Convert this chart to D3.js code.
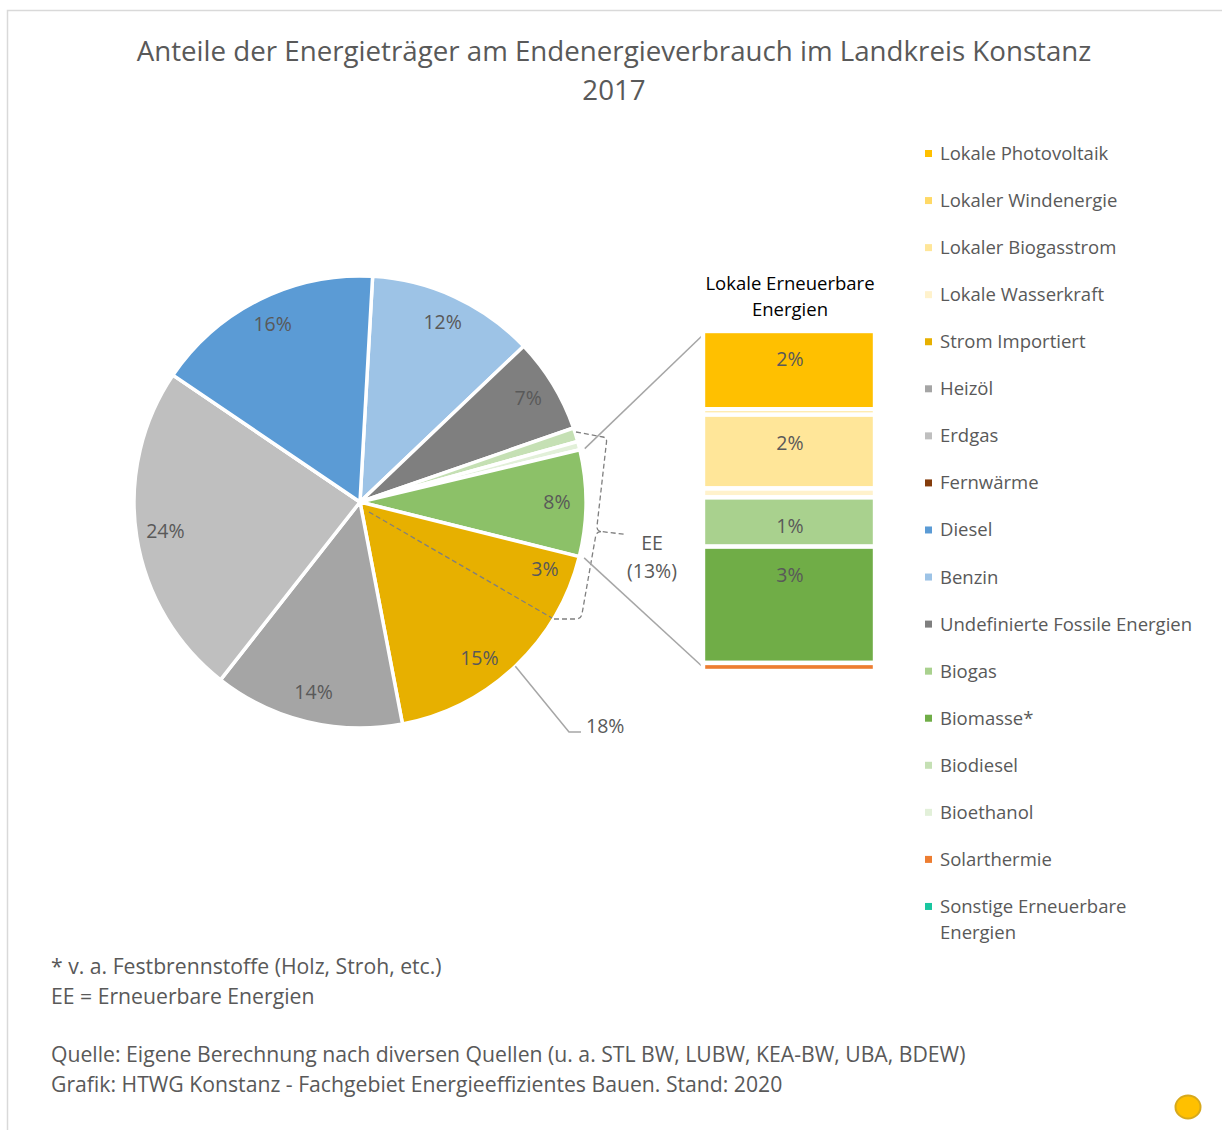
<!DOCTYPE html>
<html>
<head>
<meta charset="utf-8">
<script src="https://cdn.jsdelivr.net/npm/d3@7"></script>
<style>
  body { margin: 0; background: #fff; }
  text { font-family: "Open Sans", sans-serif; fill: #595959; }
</style>
</head>
<body>
<svg id="chart" width="1222" height="1130"></svg>
<script>
// ─── data (Anteile in %) ───
const pieNames  = ['Benzin', 'Undefinierte Fossile Energien', 'Biodiesel', 'Bioethanol',
                   'Lokale Erneuerbare Energien', 'Strom Importiert', 'Heizöl', 'Erdgas',
                   'Fernwärme', 'Diesel'];
const pieValues = [12.0, 6.8, 1.0, 0.6, 7.6, 18.1, 13.6, 23.9, 0, 16.4];
const stromEE   = 3.4;   // erneuerbarer Anteil im importierten Strom

const barNames  = ['Lokale Photovoltaik', 'Lokaler Windenergie', 'Lokaler Biogasstrom',
                   'Lokale Wasserkraft', 'Biogas', 'Biomasse*', 'Solarthermie',
                   'Sonstige Erneuerbare Energien'];
const barValues = [1.75, 0.12, 1.65, 0.2, 1.1, 2.6, 0.18, 0];

const legendNames = ['Lokale Photovoltaik', 'Lokaler Windenergie', 'Lokaler Biogasstrom',
  'Lokale Wasserkraft', 'Strom Importiert', 'Heizöl', 'Erdgas', 'Fernwärme', 'Diesel',
  'Benzin', 'Undefinierte Fossile Energien', 'Biogas', 'Biomasse*', 'Biodiesel',
  'Bioethanol', 'Solarthermie', 'Sonstige Erneuerbare Energien'];
const legendColors = ['#ffc000', '#ffd966', '#ffe699', '#fff2cc', '#e7b000', '#a5a5a5',
  '#bfbfbf', '#843c0c', '#5b9bd5', '#9dc3e6', '#7f7f7f', '#a9d18e', '#70ad47', '#c5e0b4',
  '#e2f0d9', '#ed7d31', '#19c6a0'];

const titleLines = ['Anteile der Energieträger am Endenergieverbrauch im Landkreis Konstanz', '2017'];
const notes = ['* v. a. Festbrennstoffe (Holz, Stroh, etc.)', 'EE = Erneuerbare Energien', '',
  'Quelle: Eigene Berechnung nach diversen Quellen (u. a. STL BW, LUBW, KEA-BW, UBA, BDEW)',
  'Grafik: HTWG Konstanz - Fachgebiet Energieeffizientes Bauen. Stand: 2020'];

const color = d3.scaleOrdinal()
  .domain(legendNames.concat(['Lokale Erneuerbare Energien']))
  .range(legendColors.concat(['#8cc168']));

const svg = d3.select('#chart');
const pct = v => Math.round(v) + '%';
const rad = deg => deg * Math.PI / 180;

// chart frame
svg.append('rect')
  .attr('x', 7.5).attr('y', 10.5).attr('width', 1240).attr('height', 1140)
  .attr('fill', '#fff').attr('stroke', '#d9d9d9').attr('stroke-width', 1.5);

// title
svg.append('g').selectAll('text')
  .data(titleLines)
  .join('text')
    .attr('x', 614).attr('y', (d, i) => 61 + i * 39)
    .attr('text-anchor', 'middle')
    .style('font-size', '27.7px')
    .text(d => d);

// ─── Pie ───
const cx = 360, cy = 502, R = 226;
const pieData = pieNames.map((n, i) => ({ name: n, value: pieValues[i] }));
const pie = d3.pie().sort(null).value(d => d.value)
  .startAngle(rad(3.2)).endAngle(rad(363.2));
const arcs = pie(pieData);
const arc = d3.arc().innerRadius(0).outerRadius(R);
const labelArc = d3.arc().innerRadius(197).outerRadius(197);
const edgeArc = d3.arc().innerRadius(R).outerRadius(R);

const pg = svg.append('g').attr('transform', `translate(${cx},${cy})`);
pg.selectAll('path')
  .data(arcs)
  .join('path')
    .attr('d', arc)
    .attr('fill', d => color(d.data.name))
    .attr('stroke', '#fff')
    .attr('stroke-width', 3.5)
    .attr('stroke-linejoin', 'round');

const strom = arcs.find(d => d.data.name === 'Strom Importiert');
const total = d3.sum(pieValues);
const split = strom.startAngle + stromEE / total * 2 * Math.PI;

// dashed line: EE share inside imported electricity
pg.append('line')
  .attr('x1', 9).attr('y1', 10).attr('x2', 192).attr('y2', 116)
  .attr('stroke', '#7f7f7f').attr('stroke-width', 1.3)
  .attr('stroke-dasharray', '5,3');

// slice labels
const labels = arcs
  .filter(d => d.data.value >= 5 && d.data.name !== 'Strom Importiert')
  .map(d => ({ pos: labelArc.centroid(d), text: pct(d.data.value) }));
labels.push({ pos: labelArc.centroid({ startAngle: strom.startAngle, endAngle: split }), text: pct(stromEE) });
labels.push({ pos: labelArc.centroid({ startAngle: split, endAngle: strom.endAngle }), text: pct(strom.data.value - stromEE) });

pg.selectAll('text.lbl')
  .data(labels)
  .join('text')
    .attr('class', 'lbl')
    .attr('x', d => d.pos[0]).attr('y', d => d.pos[1])
    .attr('dy', '0.3em')
    .attr('text-anchor', 'middle')
    .style('font-size', '19.5px')
    .text(d => d.text);

// leader for total Strom
const lp = edgeArc.centroid(strom);
pg.append('polyline')
  .attr('points', [lp, [209, 230], [221, 230]].map(p => p.join(',')).join(' '))
  .attr('fill', 'none').attr('stroke', '#a6a6a6').attr('stroke-width', 1.5);
pg.append('text')
  .attr('x', 226).attr('y', 224).attr('dy', '0.35em')
  .style('font-size', '19.5px')
  .text(pct(strom.data.value));

// EE bracket
svg.append('path')
  .attr('d', 'M576,432 L603,437 Q607,438 606.5,442 L597,526 Q596.5,531 601,531.5 L626,534.5 ' +
             'M601,531.5 Q596,532 595.5,537 L582,614 Q581,619 576,619 L551,619')
  .attr('fill', 'none').attr('stroke', '#7f7f7f').attr('stroke-width', 1.3)
  .attr('stroke-dasharray', '5,3');
const eeShare = d3.sum(arcs.filter(d => ['Biodiesel', 'Bioethanol', 'Lokale Erneuerbare Energien'].includes(d.data.name)), d => d.data.value) + stromEE;
svg.append('g').selectAll('text')
  .data(['EE', '(' + pct(eeShare) + ')'])
  .join('text')
    .attr('x', 652).attr('y', (d, i) => 543 + i * 28).attr('dy', '0.35em')
    .attr('text-anchor', 'middle')
    .style('font-size', '19.5px')
    .text(d => d);

// ─── Bar of pie ───
const other = arcs.find(d => d.data.name === 'Lokale Erneuerbare Energien');
const barX = 703, barW = 172;
const y = d3.scaleLinear().domain([0, d3.sum(barValues)]).range([331, 671]);
let acc = 0;
const stack = barNames.map((n, i) => {
  const s = { name: n, value: barValues[i], y0: acc, y1: acc + barValues[i] };
  acc += barValues[i];
  return s;
});

// connector lines
const c0 = d3.arc().innerRadius(R + 5).outerRadius(R + 5)
  .centroid({ startAngle: other.startAngle, endAngle: other.startAngle });
const c1 = d3.arc().innerRadius(R + 5).outerRadius(R + 5)
  .centroid({ startAngle: other.endAngle, endAngle: other.endAngle });
svg.append('g').selectAll('line')
  .data([[c0, y(0) + 2], [c1, y(acc) - 2]])
  .join('line')
    .attr('x1', d => cx + d[0][0]).attr('y1', d => cy + d[0][1])
    .attr('x2', barX + 2).attr('y2', d => d[1])
    .attr('stroke', '#a6a6a6').attr('stroke-width', 1.5);

const bg = svg.append('g');
bg.selectAll('rect')
  .data(stack.filter(d => d.value > 0))
  .join('rect')
    .attr('x', barX).attr('width', barW)
    .attr('y', d => y(d.y0))
    .attr('height', d => y(d.y1) - y(d.y0))
    .attr('fill', d => color(d.name))
    .attr('stroke', '#fff').attr('stroke-width', 4.4);

bg.selectAll('text')
  .data(stack.filter(d => d.value >= 0.5))
  .join('text')
    .attr('x', barX + barW / 2 + 1)
    .attr('y', d => y(d.y0) + 28.5).attr('dy', '0.35em')
    .attr('text-anchor', 'middle')
    .style('font-size', '19.5px')
    .text(d => pct(d.value));

svg.append('g').selectAll('text')
  .data(['Lokale Erneuerbare', 'Energien'])
  .join('text')
    .attr('x', 790).attr('y', (d, i) => 284 + i * 26).attr('dy', '0.35em')
    .attr('text-anchor', 'middle')
    .style('font-size', '18.5px')
    .style('fill', '#000')
    .text(d => d);

// ─── Legend ───
const lg = svg.append('g').attr('transform', 'translate(925,0)');
const row = lg.selectAll('g')
  .data(legendNames)
  .join('g')
    .attr('transform', (d, i) => `translate(0,${153.5 + i * 47.06})`);
row.append('rect')
  .attr('x', 0).attr('y', -3.5).attr('width', 7).attr('height', 7)
  .attr('fill', (d, i) => legendColors[i]);
row.append('text')
  .attr('x', 15)
  .style('font-size', '18.5px')
  .each(function(d) {
    const t = d3.select(this);
    const words = d.split(' ');
    t.append('tspan').attr('x', 15).attr('dy', '0.35em').text(d);
    if (this.getComputedTextLength() > 262) {
      t.text('');
      t.append('tspan').attr('x', 15).attr('dy', '0.35em').text(words.slice(0, -1).join(' '));
      t.append('tspan').attr('x', 15).attr('dy', 26).text(words[words.length - 1]);
    }
  });

// notes
svg.append('g').selectAll('text')
  .data(notes)
  .join('text')
    .attr('x', 51).attr('y', (d, i) => 967 + i * 29.5 - (i > 2 ? 0.5 : 0)).attr('dy', '0.35em')
    .style('font-size', '21.2px')
    .text(d => d);

// decorative dot
svg.append('ellipse')
  .attr('cx', 1188).attr('cy', 1107).attr('rx', 12.5).attr('ry', 11.5)
  .attr('fill', '#ffc000').attr('stroke', '#d7a91c').attr('stroke-width', 2);
</script>
</body>
</html>
